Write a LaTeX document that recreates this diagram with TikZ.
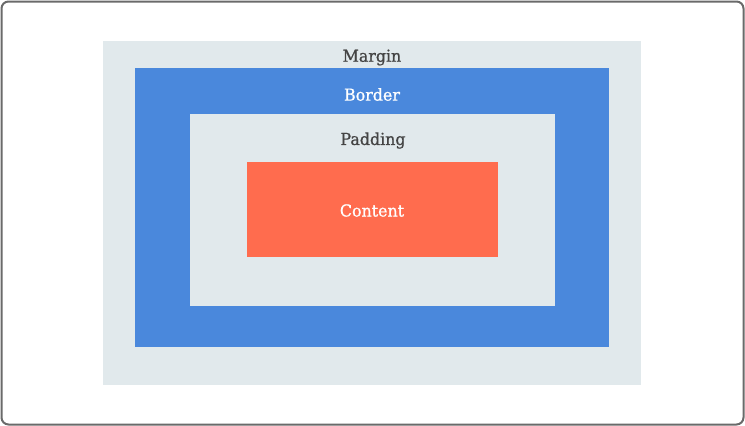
\documentclass[tikz,border=0pt]{standalone}
\usepackage{fontspec}
\setmainfont{DejaVu Serif}
\newfontfamily\labelfont[FakeBold=0.9]{DejaVu Serif}
\definecolor{frameGray}{HTML}{6A6A6A}
\definecolor{marginFill}{HTML}{E1E9EC}
\definecolor{borderBlue}{HTML}{4A88DC}
\definecolor{contentRed}{HTML}{FF6C4E}
\definecolor{labelDark}{HTML}{444444}
\tikzset{
  layer/.style={anchor=north west, inner sep=0pt, outer sep=0pt, draw=none},
  lbl/.style={font=\labelfont\fontsize{16.5}{19}\selectfont, inner sep=0pt, xscale=0.96, transform shape},
}
\begin{document}
\begin{tikzpicture}[x=1pt,y=-1pt]
  \useasboundingbox (0,0) rectangle (745,426);
  % outer frame
  \draw[frameGray, line width=2pt, rounded corners=7pt, fill=white] (1.5,1.5) rectangle (743.5,424.5);
  % box model layers
  \node[layer, fill=marginFill, minimum width=538pt, minimum height=344pt] (margin) at (103,41) {};
  \node[layer, fill=borderBlue, minimum width=474pt, minimum height=279pt] (border) at (135,68) {};
  \node[layer, fill=marginFill, minimum width=365pt, minimum height=192pt] (padding) at (190,114) {};
  \node[layer, fill=contentRed, minimum width=251pt, minimum height=95pt] (content) at (247,162) {};
  % labels
  \node[lbl, text=labelDark] (marginlbl) at (372,57.5) {Margin};
  \node[lbl, text=white] (borderlbl) at (372,94.5) {Border};
  \node[lbl, text=labelDark] (paddinglbl) at (373,140.5) {Padding};
  \node[lbl, text=white] (contentlbl) at (372,210.5) {Content};
\end{tikzpicture}
\end{document}
